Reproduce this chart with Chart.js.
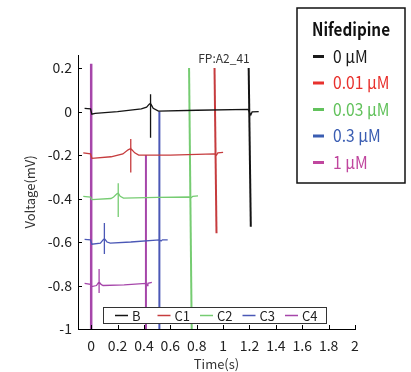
<!DOCTYPE html>
<html>
<head>
<meta charset="utf-8">
<script src="https://cdn.jsdelivr.net/npm/chart.js@4"></script>
<style>
  body { margin: 0; background: #fff; }
  canvas { display: block; }
</style>
</head>
<body>
<canvas id="fpChart" width="411" height="372"></canvas>
<script>
// Traços de potencial de campo [tempo (s), voltagem (mV)]
const traceB = [[-0.05, 0.015], [-0.005, 0.012], [0.005, -0.012], [0.03, -0.008], [0.2, 0.0], [0.38, 0.012], [0.42, 0.02], [0.44, 0.034], [0.45, 0.038], [0.45, 0.08], [0.45, -0.12], [0.45, 0.038], [0.47, 0.015], [0.51, 0.002], [0.8, 0.006], [1.19, 0.01], [1.21, -0.016], [1.22, -0.002], [1.27, 0.0]];
const traceC1 = [[-0.06, -0.19], [-0.005, -0.195], [0.005, -0.215], [0.15, -0.208], [0.24, -0.195], [0.28, -0.176], [0.3, -0.17], [0.3, -0.126], [0.3, -0.28], [0.3, -0.17], [0.33, -0.19], [0.36, -0.2], [0.6, -0.2], [0.935, -0.195], [0.95, -0.2], [0.96, -0.19], [1.0, -0.188]];
const traceC2 = [[-0.06, -0.39], [-0.005, -0.393], [0.005, -0.405], [0.15, -0.4], [0.17, -0.393], [0.195, -0.378], [0.205, -0.375], [0.205, -0.33], [0.205, -0.485], [0.205, -0.375], [0.22, -0.39], [0.245, -0.398], [0.5, -0.395], [0.742, -0.393], [0.76, -0.395], [0.77, -0.39], [0.81, -0.388]];
const traceC3 = [[-0.05, -0.588], [-0.005, -0.59], [0.005, -0.61], [0.07, -0.605], [0.09, -0.59], [0.1, -0.584], [0.1, -0.513], [0.1, -0.655], [0.1, -0.584], [0.12, -0.6], [0.145, -0.605], [0.3, -0.6], [0.517, -0.59], [0.53, -0.595], [0.54, -0.59], [0.58, -0.59]];
const traceC4 = [[-0.05, -0.79], [-0.005, -0.795], [0.005, -0.805], [0.04, -0.8], [0.055, -0.787], [0.06, -0.784], [0.06, -0.724], [0.06, -0.834], [0.06, -0.784], [0.075, -0.795], [0.09, -0.8], [0.25, -0.797], [0.415, -0.79], [0.425, -0.8], [0.43, -0.79], [0.46, -0.786]];

// Marcadores verticais (início / fim) [tempo, voltagem]
const markerB = [[1.194, 0.2], [1.21, -0.53]];
const markerC1 = [[0.935, 0.2], [0.95, -0.56]];
const markerC2 = [[0.742, 0.2], [0.762, -1]];
const markerC3 = [[0.517, 0.0], [0.517, -1]];
const markerC4 = [[0.415, -0.2], [0.415, -1]];
const startC4 = [[0, 0.22], [0, -1]];

const traceNames = ['B', 'C1', 'C2', 'C3', 'C4'];
const traceColors = ['#141414', '#c63c3e', '#76cc72', '#4b58b6', '#a646aa'];
const doseLabels = ['0 μM', '0.01 μM', '0.03 μM', '0.3 μM', '1 μM'];
const doseColors = ['#1a1a1a', '#e8312d', '#62c25c', '#3a5db2', '#c0469e'];
const xTicks = [0, 0.2, 0.4, 0.6, 0.8, 1, 1.2, 1.4, 1.6, 1.8, 2];
const yTicks = [-1, -0.8, -0.6, -0.4, -0.2, 0, 0.2];

Chart.defaults.font.family = "'Noto Sans CJK SC', 'Noto Sans', sans-serif";
Chart.defaults.color = '#222';

const toXY = arr => arr.map(p => ({ x: p[0], y: p[1] }));

const traces = [traceB, traceC1, traceC2, traceC3, traceC4];
const markers = [markerB, markerC1, markerC2, markerC3, markerC4];

let datasets = traces.map((t, i) => ({
	label: traceNames[i],
	data: toXY(t),
	borderColor: traceColors[i],
	borderWidth: 1.3,
	showLine: true,
	pointRadius: 0,
	tension: 0
}));
markers.forEach((m, i) => {
	datasets.push({ data: toXY(m), borderColor: traceColors[i], borderWidth: 2, showLine: true, pointRadius: 0, isMarker: true });
});
datasets.push({ data: toXY(startC4), borderColor: traceColors[4], borderWidth: 2.5, showLine: true, pointRadius: 0, isMarker: true });

// Plugin para ticks internos, legendas e anotação
const extrasPlugin = {
	id: 'extras',
	afterDraw(chart) {
		const ctx = chart.ctx;
		const xs = chart.scales.x, ys = chart.scales.y;
		ctx.save();
		ctx.strokeStyle = '#000';
		ctx.lineWidth = 1;
		xTicks.forEach(v => {
			let px = Math.round(xs.getPixelForValue(v)) + 0.5;
			ctx.beginPath(); ctx.moveTo(px, ys.bottom); ctx.lineTo(px, ys.bottom - 4); ctx.stroke();
		});
		yTicks.forEach(v => {
			let py = Math.round(ys.getPixelForValue(v)) + 0.5;
			ctx.beginPath(); ctx.moveTo(xs.left, py); ctx.lineTo(xs.left + 4, py); ctx.stroke();
		});

		// FP label
		ctx.fillStyle = '#333';
		ctx.font = "12px 'Noto Sans CJK SC'";
		ctx.textAlign = 'center';
		ctx.textBaseline = 'middle';
		ctx.fillText('FP:A2_41', 224, 58);

		// Legenda inferior (B, C1...)
		ctx.fillStyle = '#fff';
		ctx.fillRect(103.5, 307.5, 223, 16);
		ctx.strokeStyle = '#333';
		ctx.strokeRect(103.5, 307.5, 223, 16);
		ctx.font = "13px 'Noto Sans CJK SC'";
		ctx.textAlign = 'left';
		traceNames.forEach((name, i) => {
			let x0 = 115 + i * 42.5;
			ctx.strokeStyle = traceColors[i];
			ctx.lineWidth = 1.5;
			ctx.beginPath(); ctx.moveTo(x0, 315.5); ctx.lineTo(x0 + 13, 315.5); ctx.stroke();
			ctx.fillStyle = '#222';
			ctx.fillText(name, x0 + 17, 316);
		});

		// Legenda Nifedipine
		ctx.fillStyle = '#fff';
		ctx.fillRect(297, 8, 108, 175);
		ctx.strokeStyle = '#111';
		ctx.lineWidth = 1.5;
		ctx.strokeRect(297, 8, 108, 175);
		ctx.fillStyle = '#111';
		ctx.font = "bold 18px 'Noto Sans CJK SC'";
		ctx.fillText('Nifedipine', 312, 29, 78);
		ctx.font = "17px 'Noto Sans CJK SC'";
		doseLabels.forEach((lab, i) => {
			let y = 56.5 + i * 26.5;
			ctx.fillStyle = doseColors[i];
			ctx.fillRect(313, y - 1.5, 11, 3);
			ctx.fillText(lab, 333, y, ctx.measureText(lab).width * 0.92);
		});
		ctx.restore();
	}
};

const ctx = document.getElementById('fpChart').getContext('2d');
new Chart(ctx, {
	type: 'scatter',
	data: { datasets: datasets },
	options: {
		responsive: false,
		devicePixelRatio: 1,
		animation: false,
		layout: { padding: { top: 55, right: 56, left: 0, bottom: 0 } },
		plugins: { legend: { display: false }, tooltip: { enabled: false } },
		scales: {
			x: {
				type: 'linear',
				min: -0.1,
				max: 2,
				afterBuildTicks: s => { s.ticks = xTicks.map(v => ({ value: v })); },
				afterFit: s => { s.height = 43; },
				ticks: { padding: 8, font: { size: 14 }, color: '#222', callback: v => String(v) },
				grid: { drawOnChartArea: false, drawTicks: false },
				border: { color: '#000', width: 1 },
				title: { display: true, text: 'Time(s)', font: { size: 13 }, color: '#333', padding: { top: 0, bottom: 0 } }
			},
			y: {
				type: 'linear',
				min: -1,
				max: 0.26,
				afterBuildTicks: s => { s.ticks = yTicks.map(v => ({ value: v })); },
				afterFit: s => { s.width = 78; },
				ticks: { padding: 6, font: { size: 14 }, color: '#222', callback: v => String(v) },
				grid: { drawOnChartArea: false, drawTicks: false },
				border: { color: '#000', width: 1 },
				title: { display: true, text: 'Voltage(mV)', font: { size: 13 }, color: '#333', padding: { top: 22, bottom: 0 } }
			}
		}
	},
	plugins: [extrasPlugin]
});
</script>
</body>
</html>
